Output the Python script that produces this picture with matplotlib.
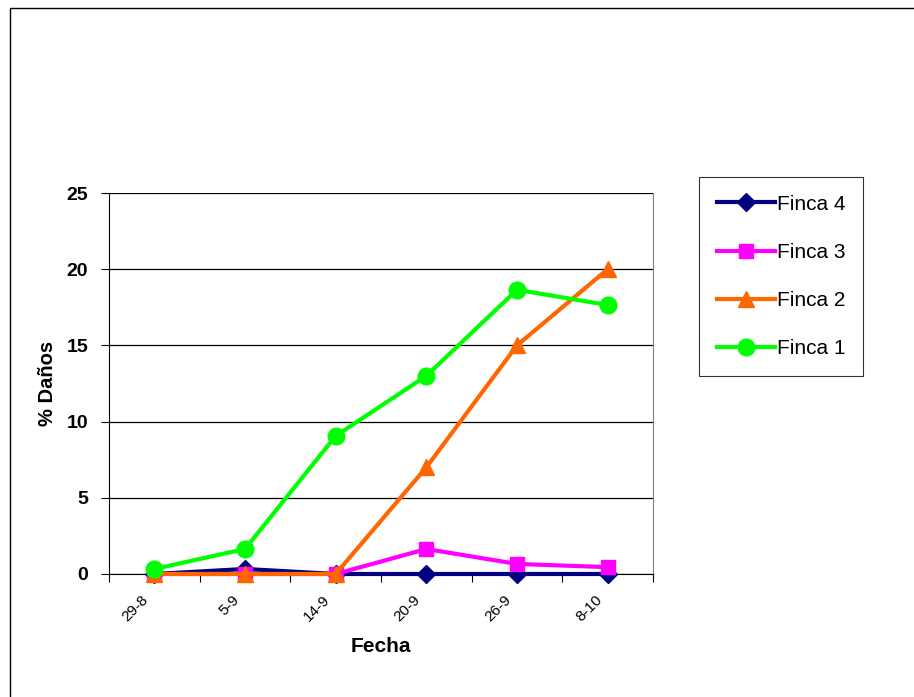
import matplotlib
matplotlib.use('Agg')
import matplotlib.pyplot as plt
from matplotlib.patches import Rectangle
from matplotlib.transforms import ScaledTranslation

plt.rcParams.update({
    'font.family': ['Liberation Sans', 'DejaVu Sans'],
    'font.size': 10,
})

# ── Data ───────────────────────────────────────────────────────────────────
fechas = ['29-8', '5-9', '14-9', '20-9', '26-9', '8-10']
finca4 = [0, 0.33, 0, 0, 0, 0]
finca3 = [0, 0, 0, 1.64, 0.66, 0.45]
finca2 = [0, 0, 0, 7.0, 15.0, 20.0]
finca1 = [0.33, 1.64, 9.06, 13.0, 18.65, 17.65]

series = [
    ('Finca 4', finca4, '#000080', 'D', 9),
    ('Finca 3', finca3, '#FF00FF', 's', 10),
    ('Finca 2', finca2, '#FF6600', '^', 12),
    ('Finca 1', finca1, '#00FF00', 'o', 12),
]

fig = plt.figure(figsize=(9.14, 6.97), dpi=100)
ax = fig.add_axes([109 / 914, 1 - 574 / 697, 544 / 914, 381 / 697])

x = list(range(len(fechas)))
for name, vals, color, mk, ms in series:
    ax.plot(x, vals, color=color, lw=3, marker=mk, markersize=ms,
            markeredgecolor=color, label=name, clip_on=False, zorder=3)

ax.set_xlim(-0.5, len(fechas) - 0.5)
ax.set_ylim(0, 25)
ax.set_yticks([0, 5, 10, 15, 20, 25])
ax.yaxis.grid(True, color='black', lw=0.9)
ax.set_axisbelow(True)

# category ticks between the points, labels drawn under the points
ax.set_xticks([i - 0.5 for i in range(len(fechas) + 1)])
ax.set_xticklabels([])
ax.tick_params(axis='x', direction='out', length=6, color='black')
lab_tr = ax.get_xaxis_transform() + ScaledTranslation(-13 / 100, -19 / 100,
                                                        fig.dpi_scale_trans)
for xi, f in zip(x, fechas):
    ax.text(xi, 0, f, transform=lab_tr, rotation=45, ha='right', va='top',
            rotation_mode='anchor', fontsize=11)

ax.tick_params(axis='y', direction='out', length=6, pad=9)
for lab in ax.get_yticklabels():
    lab.set_fontweight('bold')
    lab.set_fontsize(14)

ax.spines['top'].set_visible(False)
ax.spines['right'].set_color('#808080')
ax.spines['left'].set_color('black')
ax.spines['bottom'].set_color('black')

ax.set_xlabel('Fecha', fontweight='bold', fontsize=15, labelpad=36)
ax.set_ylabel('% Daños', fontweight='bold', fontsize=14.5, labelpad=7)

leg = fig.legend(loc='upper left', bbox_to_anchor=(699 / 914, 1 - 177 / 697),
                 frameon=True, fancybox=False, edgecolor='black',
                 fontsize=15, handlelength=2.8, handletextpad=0.1,
                 labelspacing=1.4, borderpad=0.85, borderaxespad=0)
leg.get_frame().set_linewidth(0.8)

# outer chart border
fig.patches.append(Rectangle((10 / 914, -0.1), 1.1, 1.1 - 8 / 697,
                             transform=fig.transFigure, fill=False,
                             edgecolor='black', lw=1.0))

fig.savefig('out.png', dpi=100)
